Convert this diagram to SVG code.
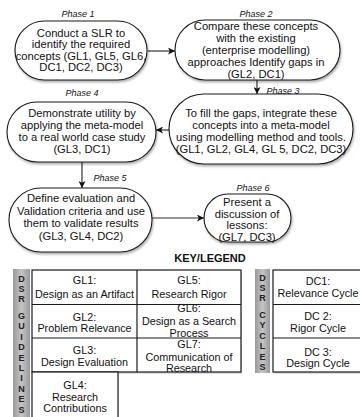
<svg xmlns="http://www.w3.org/2000/svg" width="360" height="417" viewBox="0 0 360 417">
<style>
  .node { fill: #ffffff; stroke: #1a1a1a; stroke-width: 1.1; filter: url(#sh); }
  .t { font-family: "Liberation Sans", Arial, sans-serif; font-size: 11.2px; fill: #111; text-anchor: middle; }
  .ph { font-family: "Liberation Sans", Arial, sans-serif; font-size: 9px; font-style: italic; fill: #111; text-anchor: middle; }
  .lg { font-family: "Liberation Sans", Arial, sans-serif; font-size: 10.8px; fill: #111; text-anchor: middle; }
  .side { font-family: "Liberation Sans", Arial, sans-serif; font-size: 9px; font-weight: bold; fill: #222; text-anchor: middle; }
  .conn { stroke: #333; stroke-width: 1.2; fill: none; marker-end: url(#ah); }
  .cell { fill: #ffffff; stroke: #1a1a1a; stroke-width: 1.2; }
  .ln { stroke: #1a1a1a; stroke-width: 1.2; }
</style>
<defs>
  <marker id="ah" viewBox="0 0 10 10" refX="10" refY="5" markerWidth="7" markerHeight="7" markerUnits="userSpaceOnUse" orient="auto">
    <path d="M0,0 L10,5 L0,10 L2.5,5 Z" fill="#111"/>
  </marker>
  <filter id="sh" x="-10%" y="-10%" width="120%" height="130%">
    <feDropShadow dx="1" dy="2" stdDeviation="1" flood-color="#000" flood-opacity="0.3"/>
  </filter>
  <linearGradient id="bar" x1="0" y1="0" x2="1" y2="0">
    <stop offset="0" stop-color="#9a9a9a"/>
    <stop offset="0.5" stop-color="#c4c4c4"/>
    <stop offset="1" stop-color="#9a9a9a"/>
  </linearGradient>
</defs>
<rect width="360" height="417" fill="#ffffff"/>

<g id="connectors">
  <line class="conn" x1="148" y1="51" x2="175" y2="51"/>
  <line class="conn" x1="257" y1="80" x2="257" y2="94"/>
  <line class="conn" x1="169" y1="130" x2="156" y2="130"/>
  <line class="conn" x1="82" y1="162" x2="82" y2="188"/>
  <line class="conn" x1="152" y1="218" x2="204" y2="218"/>
</g>

<g id="phase1">
  <text class="ph" x="78" y="17">Phase 1</text>
  <rect class="node" x="15" y="21" width="132" height="59" rx="29.5" ry="29.5"/>
  <text class="t" x="81" y="37">Conduct a SLR to</text>
  <text class="t" x="81" y="48.3">identify the required</text>
  <text class="t" x="81" y="59.6">concepts (GL1, GL5, GL6,</text>
  <text class="t" x="81" y="71">DC1, DC2, DC3)</text>
</g>

<g id="phase2">
  <text class="ph" x="256" y="17">Phase 2</text>
  <rect class="node" x="175" y="20" width="165" height="60" rx="30" ry="30"/>
  <text class="t" x="256" y="30">Compare these concepts</text>
  <text class="t" x="256" y="42">with the existing</text>
  <text class="t" x="256" y="54">(enterprise modelling)</text>
  <text class="t" x="256" y="66">approaches Identify gaps in</text>
  <text class="t" x="256" y="78">(GL2, DC1)</text>
</g>

<g id="phase3">
  <rect class="node" x="169" y="94" width="184" height="70" rx="35" ry="35"/>
  <text class="ph" x="283" y="94">Phase 3</text>
  <text class="t" x="261" y="117">To fill the gaps, integrate these</text>
  <text class="t" x="261" y="129">concepts into a meta-model</text>
  <text class="t" x="261" y="141">using modelling method and tools.</text>
  <text class="t" x="261" y="153">(GL1, GL2, GL4, GL 5, DC2, DC3)</text>
</g>

<g id="phase4">
  <text class="ph" x="82" y="96">Phase 4</text>
  <rect class="node" x="7" y="102" width="149" height="60" rx="30" ry="30"/>
  <text class="t" x="82" y="117">Demonstrate utility by</text>
  <text class="t" x="82" y="129">applying the meta-model</text>
  <text class="t" x="82" y="141">to a real world case study</text>
  <text class="t" x="82" y="153">(GL3, DC1)</text>
</g>

<g id="phase5">
  <text class="ph" x="110" y="181">Phase 5</text>
  <rect class="node" x="9" y="188" width="143" height="64" rx="32" ry="32"/>
  <text class="t" x="81" y="202">Define evaluation and</text>
  <text class="t" x="81" y="214.7">Validation criteria and use</text>
  <text class="t" x="81" y="227.3">them to validate results</text>
  <text class="t" x="81" y="240">(GL3, GL4, DC2)</text>
</g>

<g id="phase6">
  <text class="ph" x="253" y="191">Phase 6</text>
  <rect class="node" x="204" y="194" width="87" height="48" rx="24" ry="24"/>
  <text class="t" x="247" y="206">Present a</text>
  <text class="t" x="247" y="217.5">discussion of</text>
  <text class="t" x="247" y="229">lessons:</text>
  <text class="t" x="247" y="240.5">(GL7, DC3)</text>
</g>

<g id="legend">
  <text x="210" y="262" font-family="Liberation Sans, Arial, sans-serif" font-size="11px" font-weight="bold" fill="#111" text-anchor="middle">KEY/LEGEND</text>

  <rect x="13" y="269" width="17" height="152" fill="url(#bar)"/>
  <g class="side">
    <text x="21.5" y="282">D</text><text x="21.5" y="292">S</text><text x="21.5" y="302">R</text>
    <text x="21.5" y="319">G</text><text x="21.5" y="329.4">U</text><text x="21.5" y="339.8">I</text>
    <text x="21.5" y="350.2">D</text><text x="21.5" y="360.6">E</text><text x="21.5" y="371">L</text>
    <text x="21.5" y="381.4">I</text><text x="21.5" y="391.8">N</text><text x="21.5" y="402.2">E</text>
    <text x="21.5" y="412.6">S</text>
  </g>

  <rect x="33" y="272" width="209" height="102" fill="#bbb" opacity="0.5"/>
  <rect class="cell" x="32" y="270" width="209" height="102"/>
  <line class="ln" x1="137" y1="270" x2="137" y2="372"/>
  <line class="ln" x1="32" y1="304.5" x2="241" y2="304.5"/>
  <line class="ln" x1="32" y1="338" x2="241" y2="338"/>
  <rect x="33" y="374" width="86" height="50" fill="#bbb" opacity="0.5"/>
  <rect class="cell" x="32" y="372" width="86" height="50"/>

  <text class="lg" x="84.5" y="284">GL1:</text>
  <text class="lg" x="84.5" y="298">Design as an Artifact</text>
  <text class="lg" x="84.5" y="321">GL2:</text>
  <text class="lg" x="84.5" y="332">Problem Relevance</text>
  <text class="lg" x="84.5" y="354">GL3:</text>
  <text class="lg" x="84.5" y="366">Design Evaluation</text>
  <text class="lg" x="75" y="389">GL4:</text>
  <text class="lg" x="75" y="401">Research</text>
  <text class="lg" x="75" y="412">Contributions</text>

  <text class="lg" x="189" y="284">GL5:</text>
  <text class="lg" x="189" y="298">Research Rigor</text>
  <text class="lg" x="189" y="312">GL6:</text>
  <text class="lg" x="189" y="325">Design as a Search</text>
  <text class="lg" x="189" y="336.5">Process</text>
  <text class="lg" x="189" y="348">GL7:</text>
  <text class="lg" x="189" y="361">Communication of</text>
  <text class="lg" x="189" y="372">Research</text>

  <rect x="255" y="269" width="15" height="104" fill="url(#bar)"/>
  <g class="side">
    <text x="262.5" y="281">D</text><text x="262.5" y="291">S</text><text x="262.5" y="301">R</text>
    <text x="262.5" y="318">C</text><text x="262.5" y="328.4">Y</text><text x="262.5" y="338.8">C</text>
    <text x="262.5" y="349.2">L</text><text x="262.5" y="359.6">E</text><text x="262.5" y="370">S</text>
  </g>

  <rect x="274" y="272" width="95" height="102" fill="#bbb" opacity="0.5"/>
  <rect class="cell" x="273" y="270" width="95" height="102"/>
  <line class="ln" x1="273" y1="304.5" x2="368" y2="304.5"/>
  <line class="ln" x1="273" y1="338" x2="368" y2="338"/>
  <text class="lg" x="318" y="285">DC1:</text>
  <text class="lg" x="318" y="297">Relevance Cycle</text>
  <text class="lg" x="318" y="320">DC 2:</text>
  <text class="lg" x="318" y="332">Rigor Cycle</text>
  <text class="lg" x="318" y="356">DC 3:</text>
  <text class="lg" x="318" y="367">Design Cycle</text>
</g>
</svg>
